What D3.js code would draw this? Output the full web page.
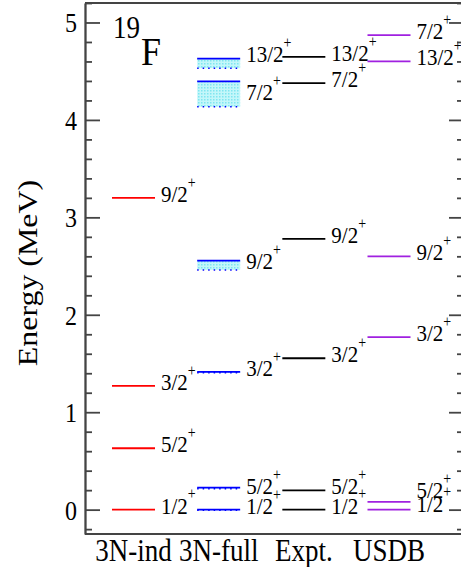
<!DOCTYPE html>
<html>
<head>
    <title>19F levels</title>
    <meta charset="utf-8">
</head>
<body style="margin:0">
<script src="https://d3js.org/d3.v7.min.js"></script>
<script>
    // Columns of the level scheme
    const columns = ['3N-ind', '3N-full', 'Expt.', 'USDB'];

    // 3N-ind (red)
    const indSpins = ['1/2', '5/2', '3/2', '9/2'];
    const indEnergy = [0, 0.63, 1.27, 3.20];

    // 3N-full (blue), upper value and lower edge of the band
    const fullSpins = ['1/2', '5/2', '3/2', '9/2', '7/2', '13/2'];
    const fullEnergy = [0, 0.225, 1.415, 2.555, 4.395, 4.63];
    const fullLow = [-0.005, 0.215, 1.405, 2.46, 4.135, 4.53];

    // Experiment (black)
    const exptSpins = ['1/2', '5/2', '3/2', '9/2', '7/2', '13/2'];
    const exptEnergy = [0, 0.197, 1.554, 2.780, 4.378, 4.648];

    // USDB (violet)
    const usdbSpins = ['1/2', '5/2', '3/2', '9/2', '13/2', '7/2'];
    const usdbEnergy = [0, 0.08, 1.77, 2.60, 4.60, 4.87];

    const majorTicks = [0, 1, 2, 3, 4, 5];

    const FONT = '"Liberation Serif", "Times New Roman", serif';

    const SIZES = {
        WIDTH: 461,
        HEIGHT: 567,
        LEFT: 85,
        RIGHT: 464,
        TOP: 3,
        BOTTOM: 534,
        HALF_LINE: 21.5,
        LABEL_GAP: 6,
        STRETCH: 1.14
    };

    // label nudges (px) where the original moved them to avoid overlaps
    const labelNudge = {'3N-full 13/2': -5, '3N-full 5/2': 2, '3N-full 7/2': 2, 'USDB 5/2': -8, 'USDB 1/2': -2};

    const svg = d3.select('body').append('svg')
        .attr('width', SIZES.WIDTH)
        .attr('height', SIZES.HEIGHT)
        .attr('font-family', FONT);

    // dotted cyan fill like the ROOT fill style
    const pattern = svg.append('defs').append('pattern')
        .attr('id', 'dots')
        .attr('width', 3)
        .attr('height', 3)
        .attr('patternUnits', 'userSpaceOnUse');
    pattern.append('rect').attr('width', 3).attr('height', 3).attr('fill', '#c4f7fa');
    pattern.append('rect').attr('width', 1.5).attr('height', 1.5).attr('fill', '#7fe6f0');

    const y = d3.scaleLinear().domain([-0.25, 5.2]).range([SIZES.BOTTOM, SIZES.TOP]);
    const x = d3.scalePoint().domain(columns).range([133.5, 389]);

    const minorTicks = d3.range(-0.2, 5.21, 0.2).filter(v => Math.abs(v - Math.round(v)) > 0.01);

    // text with the vertical stretch of the original picture
    function addText(x0, y0, str, size, anchor) {
        return svg.append('text')
            .attr('transform', `translate(${x0},${y0}) scale(1,${SIZES.STRETCH})`)
            .attr('font-family', FONT)
            .attr('font-size', size)
            .attr('text-anchor', anchor || 'start')
            .attr('fill', '#000')
            .text(str);
    }

    // cyan uncertainty bands for 3N-full
    svg.selectAll('.band')
        .data(fullEnergy.map((e, i) => ({hi: e, lo: fullLow[i]})))
        .enter()
        .append('rect')
        .attr('x', x('3N-full') - SIZES.HALF_LINE)
        .attr('width', SIZES.HALF_LINE * 2)
        .attr('y', d => y(d.hi))
        .attr('height', d => y(d.lo) - y(d.hi))
        .attr('fill', 'url(#dots)');

    svg.selectAll('.low')
        .data(fullLow)
        .enter()
        .append('line')
        .attr('x1', x('3N-full') - SIZES.HALF_LINE)
        .attr('x2', x('3N-full') + SIZES.HALF_LINE)
        .attr('y1', d => y(d))
        .attr('y2', d => y(d))
        .attr('stroke', '#0000ff')
        .attr('stroke-width', 1.5)
        .attr('stroke-dasharray', '1.5,4');

    const sets = [
        {col: '3N-ind', spins: indSpins, energy: indEnergy, color: '#ff0000'},
        {col: '3N-full', spins: fullSpins, energy: fullEnergy, color: '#0000ff', low: fullLow},
        {col: 'Expt.', spins: exptSpins, energy: exptEnergy, color: '#000000'},
        {col: 'USDB', spins: usdbSpins, energy: usdbEnergy, color: '#a020e0'}
    ];

    sets.forEach(s => {
        const cx = x(s.col);
        svg.selectAll(null)
            .data(s.energy)
            .enter()
            .append('line')
            .attr('x1', cx - SIZES.HALF_LINE)
            .attr('x2', cx + SIZES.HALF_LINE)
            .attr('y1', d => y(d))
            .attr('y2', d => y(d))
            .attr('stroke', s.color)
            .attr('stroke-width', 1.8);

        // spin labels, 3N-full ones sit at the middle of the band
        s.energy.forEach((e, i) => {
            const mid = s.low ? (e + s.low[i]) / 2 : e;
            const ly = y(mid) + 4 + (labelNudge[`${s.col} ${s.spins[i]}`] || 0);
            const t = addText(cx + SIZES.HALF_LINE + SIZES.LABEL_GAP, ly, s.spins[i], 21);
            t.append('tspan')
                .attr('font-size', 14)
                .attr('dy', -12.5)
                .text('+');
        });
    });

    // left axis, ticks pointing inside
    const left = svg.append('g').attr('transform', `translate(${SIZES.LEFT},0)`);
    left.call(d3.axisLeft(y).tickValues(majorTicks).tickSizeInner(-15).tickSizeOuter(0).tickPadding(8).tickFormat(d3.format('d')));
    left.append('g').call(d3.axisLeft(y).tickValues(minorTicks).tickSizeInner(-7).tickSizeOuter(0).tickFormat(''));
    left.attr('font-family', FONT);
    left.selectAll('text')
        .attr('font-size', 24)
        .attr('font-family', FONT)
        .attr('dy', null)
        .attr('y', 9.5 / SIZES.STRETCH)
        .attr('transform', `scale(1,${SIZES.STRETCH})`);

    // right axis, ticks only
    const right = svg.append('g').attr('transform', `translate(${SIZES.RIGHT},0)`);
    right.call(d3.axisRight(y).tickValues(majorTicks).tickSizeInner(-15).tickSizeOuter(0).tickFormat(''));
    right.append('g').call(d3.axisRight(y).tickValues(minorTicks).tickSizeInner(-7).tickSizeOuter(0).tickFormat(''));

    svg.selectAll('.domain, .tick line').attr('stroke', '#444').attr('stroke-width', 1.8);

    // top and bottom frame
    [SIZES.TOP, SIZES.BOTTOM].forEach(v => {
        svg.append('line')
            .attr('x1', SIZES.LEFT).attr('x2', SIZES.RIGHT)
            .attr('y1', v).attr('y2', v)
            .attr('stroke', '#444').attr('stroke-width', 2);
    });

    // column names
    columns.forEach(c => addText(x(c), 561, c, 27, 'middle'));

    // y axis title
    svg.append('text')
        .attr('transform', `translate(37,273) scale(1,${SIZES.STRETCH}) rotate(-90)`)
        .attr('font-family', FONT)
        .attr('font-size', 28)
        .attr('text-anchor', 'middle')
        .text('Energy (MeV)');

    // nucleus name
    addText(113, 38, '19', 27);
    addText(141, 65, 'F', 36);
</script>
</body>
</html>
